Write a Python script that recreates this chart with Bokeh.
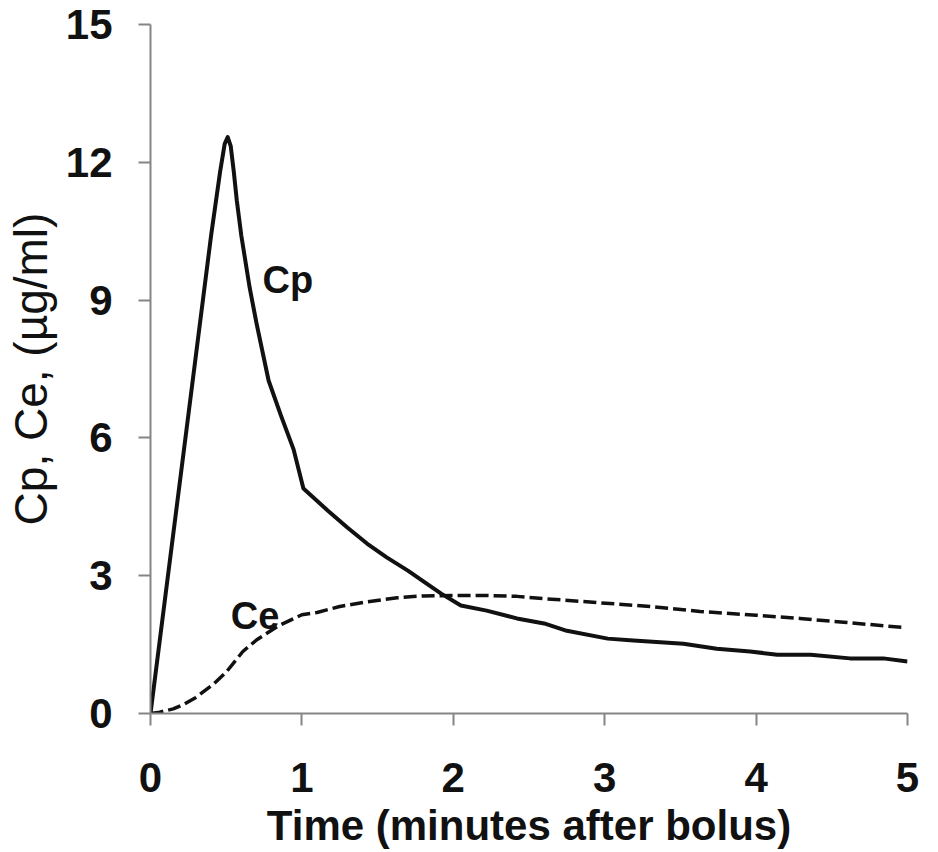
from bokeh.plotting import figure
from bokeh.models import Range1d, FixedTicker, ColumnDataSource
from bokeh.core.properties import value
from bokeh.embed import file_html
from bokeh.resources import INLINE

# ---- data ----
time_cp = [0, 0.1, 0.2, 0.3, 0.4, 0.46, 0.49, 0.51, 0.53, 0.55, 0.57, 0.6, 0.655, 0.7,
           0.78, 0.86, 0.945, 1.01, 1.17, 1.3, 1.43, 1.56, 1.7, 1.8, 1.92, 2.05, 2.22,
           2.42, 2.6, 2.75, 3.02, 3.19, 3.52, 3.74, 3.96, 4.14, 4.36, 4.62, 4.84, 5.0]
conc_cp = [0, 2.6, 5.2, 7.8, 10.4, 11.8, 12.4, 12.55, 12.35, 11.8, 11.17, 10.4, 9.27, 8.5,
           7.25, 6.5, 5.75, 4.9, 4.42, 4.05, 3.7, 3.4, 3.11, 2.88, 2.61, 2.35, 2.24,
           2.07, 1.96, 1.8, 1.63, 1.59, 1.52, 1.41, 1.35, 1.28, 1.28, 1.2, 1.2, 1.13]

time_ce = [0, 0.05, 0.15, 0.22, 0.3, 0.42, 0.5, 0.61, 0.7, 0.84, 1.0, 1.1, 1.25, 1.43,
           1.63, 1.8, 2.0, 2.2, 2.42, 2.6, 2.97, 3.3, 3.63, 4.0, 4.29, 4.6, 4.98]
conc_ce = [0, 0.02, 0.1, 0.2, 0.35, 0.65, 0.9, 1.35, 1.6, 1.9, 2.15, 2.2, 2.33, 2.43,
           2.52, 2.56, 2.57, 2.57, 2.55, 2.5, 2.41, 2.33, 2.22, 2.14, 2.07, 1.98, 1.87]

x_ticks = [0, 1, 2, 3, 4, 5]
y_ticks = [0, 3, 6, 9, 12, 15]

label_text = ["Cp", "Ce"]
label_x = [0.74, 0.53]
label_y = [9.43, 2.13]

FONT = "Liberation Sans"

p = figure(width=938, height=852, output_backend="svg", toolbar_location=None,
           x_range=Range1d(0, 5), y_range=Range1d(0, 15),
           min_border_left=150, min_border_right=31, min_border_top=24,
           min_border_bottom=139)
p.outline_line_color = None
p.xgrid.grid_line_color = None
p.ygrid.grid_line_color = None
p.background_fill_color = "white"
p.border_fill_color = "white"

p.xaxis.ticker = FixedTicker(ticks=x_ticks)
p.yaxis.ticker = FixedTicker(ticks=y_ticks)

for ax in (p.xaxis, p.yaxis):
    ax.axis_line_color = "#858585"
    ax.axis_line_width = 2
    ax.major_tick_line_color = "#858585"
    ax.major_tick_line_width = 2
    ax.major_tick_in = 0
    ax.major_tick_out = 12
    ax.minor_tick_line_color = None
    ax.major_label_text_font = FONT
    ax.major_label_text_font_size = "42px"
    ax.major_label_text_font_style = "bold"
    ax.major_label_text_color = "#111111"
    ax.axis_label_text_font = FONT
    ax.axis_label_text_color = "#111111"

p.xaxis.major_label_standoff = 37
p.yaxis.major_label_standoff = 26

p.xaxis.axis_label = "Time (minutes after bolus)"
p.xaxis.axis_label_text_font_size = "42px"
p.xaxis.axis_label_text_font_style = "bold"
p.xaxis.axis_label_standoff = 7

p.yaxis.axis_label = "Cp, Ce, (µg/ml)"
p.yaxis.axis_label_text_font_size = "46px"
p.yaxis.axis_label_text_font_style = "normal"
p.yaxis.axis_label_standoff = 6

src_cp = ColumnDataSource(dict(t=time_cp, c=conc_cp))
src_ce = ColumnDataSource(dict(t=time_ce, c=conc_ce))

p.line("t", "c", source=src_ce, line_color="#111111", line_width=3.5,
       line_dash="13 5")
p.line("t", "c", source=src_cp, line_color="#111111", line_width=4,
       line_join="round")

src_lab = ColumnDataSource(dict(x=label_x, y=label_y, text=label_text))
p.text("x", "y", text="text", source=src_lab, text_font=value(FONT),
       text_font_size="38px", text_font_style="bold", text_color="#111111",
       text_align="left", text_baseline="alphabetic")

open("out.html", "w").write(file_html(p, INLINE))
